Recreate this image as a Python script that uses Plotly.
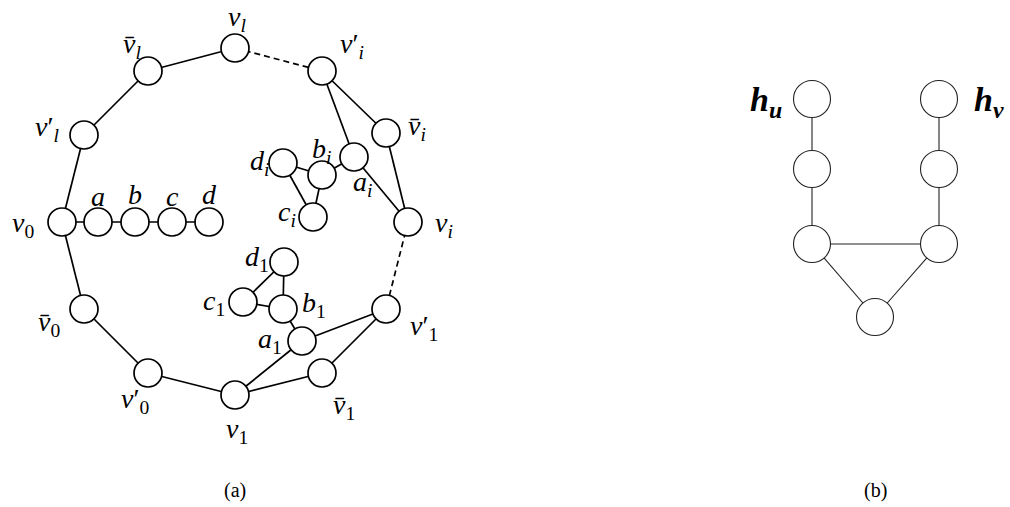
import plotly.graph_objects as go

W, H = 1010, 507

# ---- Graph (a) ----
a_nodes = ["vl", "vbl", "vpi", "vpl", "vbi", "ai", "bi", "di", "ci", "vi",
           "v0", "a", "b", "c", "d", "d1", "c1", "b1", "a1", "vp1", "vb0",
           "vp0", "v1", "vb1"]
a_x = [235, 148, 322, 84, 386, 354, 322, 283, 313, 408,
       62, 98, 135, 172, 209, 284, 243, 283, 302, 386, 84,
       148, 235, 322]
a_y = [48, 71, 71, 135, 133, 157, 175, 163, 217, 222,
       222, 222, 222, 222, 222, 262, 302, 309, 341, 309, 309,
       373, 395, 373]
a_edges = [("v0", "vpl"), ("vpl", "vbl"), ("vbl", "vl"), ("vpi", "vbi"),
           ("vbi", "vi"), ("vpi", "ai"), ("ai", "vi"), ("ai", "bi"),
           ("bi", "di"), ("bi", "ci"), ("di", "ci"), ("vp1", "a1"),
           ("vp1", "vb1"), ("vb1", "v1"), ("v1", "a1"), ("a1", "b1"),
           ("b1", "d1"), ("b1", "c1"), ("c1", "d1"), ("v1", "vp0"),
           ("vp0", "vb0"), ("vb0", "v0"), ("v0", "a"), ("a", "b"),
           ("b", "c"), ("c", "d")]
a_dashed = [("vl", "vpi"), ("vi", "vp1")]

a_labels = ["<i>v</i><sub><i>l</i></sub>", "<i>v̄</i><sub><i>l</i></sub>",
            "<i>v</i>′<sub><i>i</i></sub>", "<i>v</i>′<sub><i>l</i></sub>",
            "<i>v̄</i><sub><i>i</i></sub>", "<i>a</i><sub><i>i</i></sub>",
            "<i>b</i><sub><i>i</i></sub>", "<i>d</i><sub><i>i</i></sub>",
            "<i>c</i><sub><i>i</i></sub>", "<i>v</i><sub><i>i</i></sub>",
            "<i>v</i><sub>0</sub>", "<i>a</i>", "<i>b</i>", "<i>c</i>", "<i>d</i>",
            "<i>d</i><sub>1</sub>", "<i>c</i><sub>1</sub>", "<i>b</i><sub>1</sub>",
            "<i>a</i><sub>1</sub>", "<i>v</i>′<sub>1</sub>", "<i>v̄</i><sub>0</sub>",
            "<i>v</i>′<sub>0</sub>", "<i>v</i><sub>1</sub>", "<i>v̄</i><sub>1</sub>"]
a_lx = [237, 132, 352, 47, 417, 362, 321, 259, 287, 444,
        23, 98, 135, 172, 209, 257, 214, 314, 270, 424, 49,
        135, 237, 344]
a_ly = [18, 45, 45, 128, 127, 183, 150, 162, 213, 224,
        224, 196, 194, 196, 194, 258, 302, 304, 340, 327, 323,
        400, 430, 406]

# ---- Graph (b) ----
b_nodes = ["hu", "mu", "lu", "hv", "mv", "lv", "bot"]
b_x = [812, 812, 812, 939, 939, 939, 875]
b_y = [99, 169, 244, 99, 169, 244, 317]
b_edges = [("hu", "mu"), ("mu", "lu"), ("hv", "mv"), ("mv", "lv"),
           ("lu", "lv"), ("lu", "bot"), ("lv", "bot")]
b_labels = ["<b><i>h</i></b><sub><b><i>u</i></b></sub>",
            "<b><i>h</i></b><sub><b><i>v</i></b></sub>"]
b_lx = [784, 972]
b_ly = [102, 102]
b_anchor = ["right", "left"]

captions = ["(a)", "(b)"]
cap_x = [235, 875]
cap_y = [490, 490]


def edge_xy(edges, names, xs, ys):
    pos = {n: (x, y) for n, x, y in zip(names, xs, ys)}
    ex, ey = [], []
    for u, v in edges:
        ex += [pos[u][0], pos[v][0], None]
        ey += [pos[u][1], pos[v][1], None]
    return ex, ey


fig = go.Figure()
ex, ey = edge_xy(a_edges, a_nodes, a_x, a_y)
fig.add_trace(go.Scatter(x=ex, y=ey, mode="lines",
                         line=dict(color="black", width=1.7), hoverinfo="skip"))
ex, ey = edge_xy(a_dashed, a_nodes, a_x, a_y)
fig.add_trace(go.Scatter(x=ex, y=ey, mode="lines",
                         line=dict(color="black", width=1.7, dash="6px,4px"),
                         hoverinfo="skip"))
ex, ey = edge_xy(b_edges, b_nodes, b_x, b_y)
fig.add_trace(go.Scatter(x=ex, y=ey, mode="lines",
                         line=dict(color="#222", width=1.1), hoverinfo="skip"))
fig.add_trace(go.Scatter(x=a_x, y=a_y, mode="markers",
                         marker=dict(size=28, color="white",
                                     line=dict(color="black", width=1.7)),
                         hoverinfo="skip"))
fig.add_trace(go.Scatter(x=b_x, y=b_y, mode="markers",
                         marker=dict(size=37, color="white",
                                     line=dict(color="#222", width=1.1)),
                         hoverinfo="skip"))

SERIF = "Liberation Serif, Tinos, Times New Roman, DejaVu Serif"
font = dict(family=SERIF, size=28, color="black")
for t, x, y in zip(a_labels, a_lx, a_ly):
    fig.add_annotation(x=x, y=y, text=t, showarrow=False, font=font,
                       xanchor="center", yanchor="middle")
for t, x, y, anc in zip(b_labels, b_lx, b_ly, b_anchor):
    fig.add_annotation(x=x, y=y, text=t, showarrow=False,
                       font=dict(family=SERIF, size=34, color="black"),
                       xanchor=anc, yanchor="middle")
for t, x, y in zip(captions, cap_x, cap_y):
    fig.add_annotation(x=x, y=y, text=t, showarrow=False,
                       font=dict(family=SERIF, size=20, color="black"),
                       xanchor="center", yanchor="middle")

fig.update_layout(width=W, height=H, margin=dict(l=0, r=0, t=0, b=0),
                  font=dict(family=SERIF),
                  paper_bgcolor="white", plot_bgcolor="white", showlegend=False,
                  xaxis=dict(range=[0, W], visible=False, fixedrange=True),
                  yaxis=dict(range=[H, 0], visible=False, fixedrange=True))
fig.write_html("out.html", config={"displayModeBar": False},
               post_script="document.body.style.margin='0';document.body.style.overflow='hidden';")
